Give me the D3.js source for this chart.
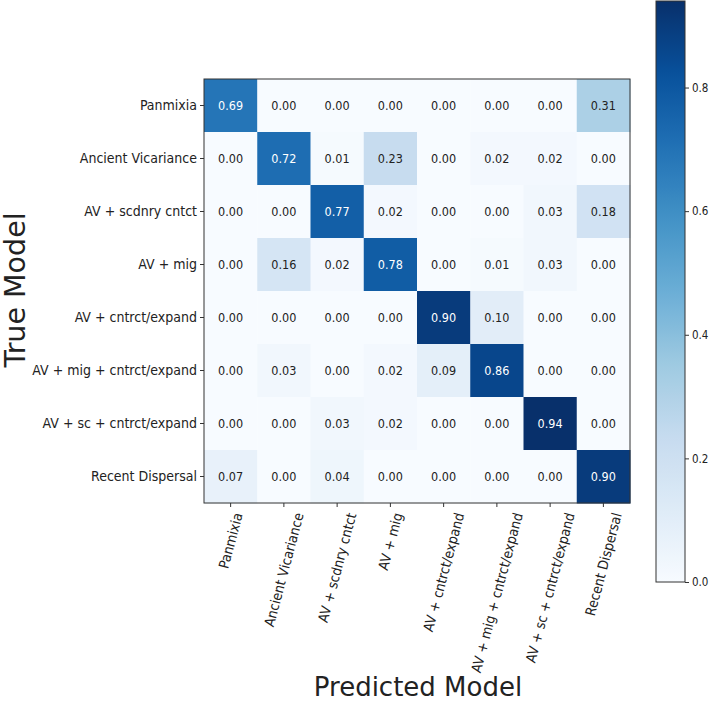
<!DOCTYPE html>
<html>
<head>
<meta charset="utf-8">
<script src="https://cdn.jsdelivr.net/npm/d3@7"></script>
<style>
  html, body { margin: 0; padding: 0; background: #fff; }
  svg { display: block; font-family: "DejaVu Sans", sans-serif; }
  .cond { font-family: "DejaVu Sans Condensed", "DejaVu Sans", sans-serif; font-stretch: condensed; }
</style>
</head>
<body>
<svg id="chart" width="709" height="701"></svg>
<script>
const trueLabels = ["Panmixia", "Ancient Vicariance", "AV + scdnry cntct", "AV + mig",
  "AV + cntrct/expand", "AV + mig + cntrct/expand", "AV + sc + cntrct/expand", "Recent Dispersal"];
const predLabels = trueLabels.slice();

const rowPanmixia   = [0.69, 0.00, 0.00, 0.00, 0.00, 0.00, 0.00, 0.31];
const rowAncientVic = [0.00, 0.72, 0.01, 0.23, 0.00, 0.02, 0.02, 0.00];
const rowAVsc       = [0.00, 0.00, 0.77, 0.02, 0.00, 0.00, 0.03, 0.18];
const rowAVmig      = [0.00, 0.16, 0.02, 0.78, 0.00, 0.01, 0.03, 0.00];
const rowAVce       = [0.00, 0.00, 0.00, 0.00, 0.90, 0.10, 0.00, 0.00];
const rowAVmigce    = [0.00, 0.03, 0.00, 0.02, 0.09, 0.86, 0.00, 0.00];
const rowAVscce     = [0.00, 0.00, 0.03, 0.02, 0.00, 0.00, 0.94, 0.00];
const rowRecent     = [0.07, 0.00, 0.04, 0.00, 0.00, 0.00, 0.00, 0.90];
const matrix = [rowPanmixia, rowAncientVic, rowAVsc, rowAVmig, rowAVce, rowAVmigce, rowAVscce, rowRecent];

const colorbarTicks = [0.0, 0.2, 0.4, 0.6, 0.8];
const bluesStops = ["#f7fbff","#deebf7","#c6dbef","#9ecae1","#6baed6","#4292c6","#2171b5","#08519c","#08306b"];

const svg = d3.select("#chart");
const plot = { left: 204, right: 630, top: 79, bottom: 503 };
const cb = { left: 656, right: 685, top: 1, bottom: 582 };
const axisColor = "#333";

const vmax = d3.max(matrix.flat());
const color = d3.scaleLinear()
  .domain(bluesStops.map((_, i) => vmax * i / (bluesStops.length - 1)))
  .range(bluesStops)
  .interpolate(d3.interpolateRgb)
  .clamp(true);

const x = d3.scaleBand().domain(d3.range(predLabels.length)).range([plot.left, plot.right]);
const y = d3.scaleBand().domain(d3.range(trueLabels.length)).range([plot.top, plot.bottom]);

const cells = [];
matrix.forEach((row, i) => row.forEach((v, j) => cells.push({ i, j, v })));

svg.append("g").selectAll("rect").data(cells).join("rect")
  .attr("x", d => x(d.j)).attr("y", d => y(d.i))
  .attr("width", x.bandwidth() + 0.5).attr("height", y.bandwidth() + 0.5)
  .attr("fill", d => color(d.v));

svg.append("g").attr("class", "cond").selectAll("text").data(cells).join("text")
  .attr("x", d => x(d.j) + x.bandwidth() / 2)
  .attr("y", d => y(d.i) + y.bandwidth() / 2)
  .attr("text-anchor", "middle").attr("dominant-baseline", "central")
  .attr("font-size", 12.5)
  .attr("fill", d => d.v > vmax / 2 ? "#ffffff" : "#222222")
  .text(d => d.v.toFixed(2));

// frame
svg.append("rect")
  .attr("x", plot.left).attr("y", plot.top)
  .attr("width", plot.right - plot.left).attr("height", plot.bottom - plot.top)
  .attr("fill", "none").attr("stroke", axisColor).attr("stroke-width", 1);

// y axis
const yAxis = svg.append("g")
  .attr("transform", `translate(${plot.left},0)`)
  .call(d3.axisLeft(y).tickSize(4).tickPadding(3).tickFormat(i => trueLabels[i]));
yAxis.select(".domain").remove();
yAxis.selectAll("line").attr("stroke", axisColor);
yAxis.selectAll("text").attr("class", "cond").attr("font-size", 14).attr("fill", "#222");

// x axis
const xAxis = svg.append("g")
  .attr("transform", `translate(0,${plot.bottom})`)
  .call(d3.axisBottom(x).tickSize(4).tickFormat(i => predLabels[i]));
xAxis.select(".domain").remove();
xAxis.selectAll("line").attr("stroke", axisColor);
const ang = 75 * Math.PI / 180;
const fsx = 14;
xAxis.selectAll("text")
  .attr("class", "cond")
  .attr("font-size", fsx).attr("fill", "#222")
  .attr("text-anchor", "middle")
  .attr("dominant-baseline", "central")
  .attr("dy", null)
  .each(function () {
    const L = this.getComputedTextLength();
    const h = fsx * 1.15;
    const boxH = L * Math.sin(ang) + h * Math.cos(ang);
    const cy = 8 + boxH / 2;
    d3.select(this).attr("y", cy).attr("x", 0)
      .attr("transform", `rotate(-75,0,${cy})`);
  });

// axis titles
svg.append("text")
  .attr("x", (plot.left + plot.right) / 2 + 1).attr("y", 696)
  .attr("text-anchor", "middle").attr("font-size", 26).attr("fill", "#222")
  .text("Predicted Model");
svg.append("text")
  .attr("transform", "translate(25,290) rotate(-90)")
  .attr("text-anchor", "middle").attr("font-size", 28.5).attr("fill", "#222")
  .text("True Model");

// colorbar
const defs = svg.append("defs");
const grad = defs.append("linearGradient").attr("id", "cbgrad")
  .attr("x1", 0).attr("y1", 1).attr("x2", 0).attr("y2", 0);
d3.range(0, 1.0001, 0.02).forEach(t => {
  grad.append("stop").attr("offset", t).attr("stop-color", color(t * vmax));
});
const cbScale = d3.scaleLinear().domain([0, vmax]).range([cb.bottom, cb.top]);
svg.append("rect")
  .attr("x", cb.left).attr("y", cbScale(vmax))
  .attr("width", cb.right - cb.left).attr("height", cb.bottom - cbScale(vmax))
  .attr("fill", "url(#cbgrad)").attr("stroke", axisColor).attr("stroke-width", 1);
const cbAxis = svg.append("g")
  .attr("transform", `translate(${cb.right},0)`)
  .call(d3.axisRight(cbScale).tickValues(colorbarTicks).tickSize(4).tickPadding(3).tickFormat(d3.format(".1f")));
cbAxis.select(".domain").remove();
cbAxis.selectAll("line").attr("stroke", axisColor);
cbAxis.selectAll("text").attr("class", "cond").attr("font-size", 11.5).attr("fill", "#222");
</script>
</body>
</html>
